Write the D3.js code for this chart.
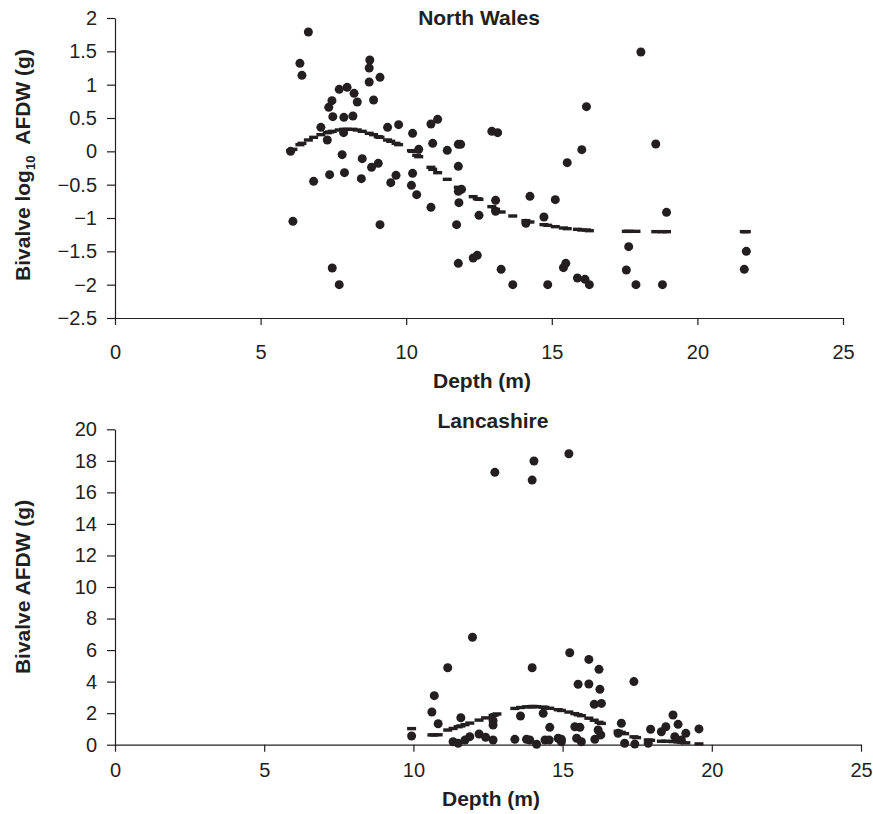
<!DOCTYPE html>
<html>
<head>
<meta charset="utf-8">
<script src="https://cdn.jsdelivr.net/npm/d3@7"></script>
<style>
  body { margin: 0; background: #fff; }
  text { font-family: "Liberation Sans", Arial, Helvetica, sans-serif; fill: #231f20; }
</style>
</head>
<body>
<svg id="chart" width="873" height="814"></svg>
<script>
// North Wales: depth (m) vs log10 bivalve AFDW (g)
var nwDepth = [6.64, 6.35, 6.42, 6.03, 6.11, 6.82, 7.07, 7.29, 7.34, 7.45, 7.48, 7.37, 7.46, 7.70,
    7.70, 7.97, 8.21, 8.32, 7.86, 8.17, 7.85, 7.80, 7.88, 8.49, 8.46, 8.81, 9.04, 8.75, 8.73, 8.73,
    9.10, 8.88, 9.10, 9.36, 9.74, 9.47, 9.65, 10.22, 10.43, 10.22, 10.18, 10.36, 10.85, 10.85, 11.08,
    10.91, 11.41, 11.79, 11.87, 11.79, 11.79, 11.90, 11.81, 11.73, 11.79, 12.50, 12.30, 12.44, 12.94,
    13.14, 13.07, 13.07, 13.26, 13.66, 14.11, 14.25, 14.73, 14.86, 15.12, 15.40, 15.48, 15.53, 15.88,
    16.14, 16.29, 16.03, 16.19, 18.06, 17.64, 17.56, 17.89, 18.57, 18.94, 18.80, 21.68, 21.61];
var nwAfdw = [1.79, 1.32, 1.14, 0.00, -1.05, -0.45, 0.36, 0.17, 0.66, 0.76, 0.52, -0.35, -1.75, -2.00,
    0.93, 0.96, 0.87, 0.74, 0.51, 0.53, 0.28, -0.05, -0.32, -0.11, -0.41, -0.24, -0.18, 1.37, 1.25, 1.04,
    1.11, 0.77, -1.10, 0.36, 0.40, -0.47, -0.36, 0.27, 0.03, -0.33, -0.51, -0.65, -0.84, 0.41, 0.48,
    0.12, 0.015, 0.105, 0.105, -0.225, -0.60, -0.57, -0.77, -1.10, -1.68, -0.96, -1.60, -1.56, 0.30,
    0.28, -0.735, -0.90, -1.77, -2.00, -1.08, -0.675, -0.985, -2.00, -0.725, -1.745, -1.68, -0.17, -1.90,
    -1.92, -2.00, 0.025, 0.67, 1.49, -1.43, -1.78, -2.00, 0.11, -0.915, -2.00, -1.50, -1.77];
var nwTrendDepth = [6.03, 6.11, 6.35, 6.42, 6.64, 6.82, 7.07, 7.29, 7.37, 7.46, 7.70, 7.85, 7.97, 8.17,
    8.32, 8.49, 8.73, 8.88, 9.04, 9.10, 9.36, 9.47, 9.65, 9.74, 10.18, 10.22, 10.36, 10.43, 10.85, 10.91,
    11.08, 11.41, 11.79, 11.87, 12.30, 12.44, 12.50, 12.94, 13.07, 13.26, 13.66, 14.11, 14.25, 14.73,
    14.86, 15.12, 15.40, 15.53, 15.88, 16.03, 16.19, 16.29, 17.56, 17.64, 17.89, 18.57, 18.80, 18.94,
    21.61, 21.68];
var nwTrendAfdw = [0.01, 0.03, 0.10, 0.12, 0.17, 0.21, 0.25, 0.28, 0.29, 0.30, 0.32, 0.33, 0.33, 0.33,
    0.32, 0.30, 0.27, 0.25, 0.22, 0.21, 0.17, 0.15, 0.12, 0.10, 0.01, 0.00, -0.06, -0.08, -0.24, -0.27,
    -0.32, -0.42, -0.54, -0.57, -0.68, -0.71, -0.72, -0.83, -0.87, -0.91, -0.97, -1.04, -1.06, -1.10,
    -1.11, -1.13, -1.15, -1.16, -1.17, -1.18, -1.18, -1.19, -1.20, -1.20, -1.20, -1.205, -1.205, -1.205,
    -1.205, -1.205];
var nwYTicks = [2, 1.5, 1, 0.5, 0, -0.5, -1, -1.5, -2, -2.5];

// Lancashire: depth (m) vs bivalve AFDW (g)
var lcDepth = [9.94, 10.70, 10.62, 10.83, 11.15, 11.98, 11.33, 11.50, 11.59, 11.73, 11.89, 12.20, 12.42,
    12.67, 12.67, 12.67, 13.40, 13.59, 13.79, 13.90, 13.98, 14.13, 14.35, 14.41, 14.57, 14.55, 14.85,
    14.96, 15.24, 12.73, 14.04, 13.98, 15.21, 15.88, 16.22, 15.52, 15.88, 16.25, 16.06, 16.30, 17.39,
    15.41, 15.58, 15.47, 15.63, 14.96, 16.08, 16.19, 16.28, 16.97, 16.86, 17.08, 17.42, 17.87, 17.95,
    18.31, 18.46, 18.70, 18.87, 18.76, 19.13, 18.98, 19.57];
var lcAfdw = [0.55, 3.11, 2.07, 1.33, 4.88, 6.81, 0.19, 0.09, 1.71, 0.30, 0.51, 0.68, 0.47,
    1.25, 1.52, 0.30, 0.34, 1.82, 0.34, 0.30, 4.88, 0.03, 1.99, 0.30, 1.10, 0.30, 0.41,
    0.19, 5.83, 17.27, 17.99, 16.78, 18.45, 5.41, 4.78, 3.83, 3.85, 3.51, 2.56, 2.62, 4.00,
    1.14, 1.10, 0.41, 0.19, 0.34, 0.34, 0.93, 0.62, 1.36, 0.72, 0.09, 0.04, 0.09, 0.98,
    0.82, 1.14, 1.88, 1.29, 0.51, 0.72, 0.30, 1.00];
var lcTrendDepth = [9.94, 10.62, 10.70, 10.83, 11.15, 11.33, 11.50, 11.59, 11.73, 11.89, 12.20, 12.42,
    12.67, 12.73, 12.80, 13.40, 13.59, 13.79, 13.90, 13.98, 14.04, 14.13, 14.35, 14.41, 14.57, 14.85,
    14.96, 15.21, 15.41, 15.52, 15.63, 15.88, 16.06, 16.22, 16.30, 16.86, 16.97, 17.08, 17.39, 17.48,
    17.87, 17.95, 18.31, 18.46, 18.70, 18.87, 18.98, 19.13, 19.57];
var lcTrendAfdw = [1.02, 0.62, 0.62, 0.63, 0.93, 1.03, 1.14, 1.19, 1.27, 1.37, 1.56, 1.70,
    1.86, 1.90, 1.95, 2.30, 2.36, 2.40, 2.41, 2.42, 2.42, 2.41, 2.38, 2.36, 2.31, 2.22,
    2.17, 2.07, 1.97, 1.90, 1.84, 1.68, 1.55, 1.42, 1.35, 0.85, 0.78, 0.70, 0.50, 0.45,
    0.30, 0.28, 0.22, 0.22, 0.20, 0.18, 0.16, 0.12, 0.05];
var lcYTicks = [0, 2, 4, 6, 8, 10, 12, 14, 16, 18, 20];

var depthTicks = [0, 5, 10, 15, 20, 25];

var ink = '#231f20';
var svg = d3.select('#chart');

function drawPanel(opt) {
    var x = d3.scaleLinear().domain([0, 25]).range([opt.left, opt.right]);
    var y = d3.scaleLinear().domain(opt.yDomain).range([opt.bottom, opt.top]);
    var g = svg.append('g');

    var xAxis = g.append('g')
        .attr('transform', 'translate(0,' + opt.bottom + ')')
        .call(d3.axisBottom(x).tickValues(depthTicks).tickSize(7).tickPadding(opt.xPad).tickSizeOuter(0));
    var yAxis = g.append('g')
        .attr('transform', 'translate(' + opt.left + ',0)')
        .call(d3.axisLeft(y).tickValues(opt.yTicks).tickSize(8).tickPadding(10).tickSizeOuter(0)
            .tickFormat(d3.format('~g')));

    [xAxis, yAxis].forEach(function(a) {
        a.selectAll('path, line').attr('stroke', ink).attr('stroke-width', 1.2);
        a.selectAll('text').attr('fill', ink)
            .style('font-family', '"Liberation Sans", Arial, sans-serif')
            .style('font-size', '20px');
    });

    // trend line, drawn as short dash markers
    g.append('g').selectAll('rect')
        .data(opt.trendX)
        .enter()
        .append('rect')
        .attr('x', function(d) { return x(d) - 4.5; })
        .attr('y', function(d, i) { return y(opt.trendY[i]) - 1.7; })
        .attr('width', 9)
        .attr('height', 3.4)
        .attr('fill', ink);

    g.append('g').selectAll('circle')
        .data(opt.xs)
        .enter()
        .append('circle')
        .attr('cx', function(d) { return x(d); })
        .attr('cy', function(d, i) { return y(opt.ys[i]); })
        .attr('r', 4.5)
        .attr('fill', ink);

    g.append('text')
        .attr('x', opt.titleX)
        .attr('y', opt.titleY)
        .attr('text-anchor', 'middle')
        .style('font-size', '21px')
        .style('font-weight', 'bold')
        .text(opt.title);

    g.append('text')
        .attr('x', (opt.left + opt.right) / 2 + 3)
        .attr('y', opt.xLabelY)
        .attr('text-anchor', 'middle')
        .style('font-size', '21px')
        .style('font-weight', 'bold')
        .text('Depth (m)');

    return g;
}

drawPanel({
    left: 115, right: 843, top: 18, bottom: 318,
    yDomain: [-2.5, 2], yTicks: nwYTicks,
    xs: nwDepth, ys: nwAfdw, trendX: nwTrendDepth, trendY: nwTrendAfdw,
    title: 'North Wales', titleX: 479, titleY: 25, xLabelY: 388, xPad: 20
});

drawPanel({
    left: 115, right: 861, top: 429.3, bottom: 744.7,
    yDomain: [0, 20], yTicks: lcYTicks,
    xs: lcDepth, ys: lcAfdw, trendX: lcTrendDepth, trendY: lcTrendAfdw,
    title: 'Lancashire', titleX: 493, titleY: 428, xLabelY: 806, xPad: 11
});

// y axis labels
var yl1 = svg.append('text')
    .attr('transform', 'translate(30,165) rotate(-90)')
    .attr('text-anchor', 'middle')
    .style('font-size', '21px')
    .style('font-weight', 'bold')
    .style('white-space', 'pre');
yl1.append('tspan').text('Bivalve log');
yl1.append('tspan').attr('dy', 5).style('font-size', '13px').text('10');
yl1.append('tspan').attr('dy', -5).text('  AFDW (g)');

svg.append('text')
    .attr('transform', 'translate(30,587) rotate(-90)')
    .attr('text-anchor', 'middle')
    .style('font-size', '21px')
    .style('font-weight', 'bold')
    .text('Bivalve AFDW (g)');
</script>
</body>
</html>
